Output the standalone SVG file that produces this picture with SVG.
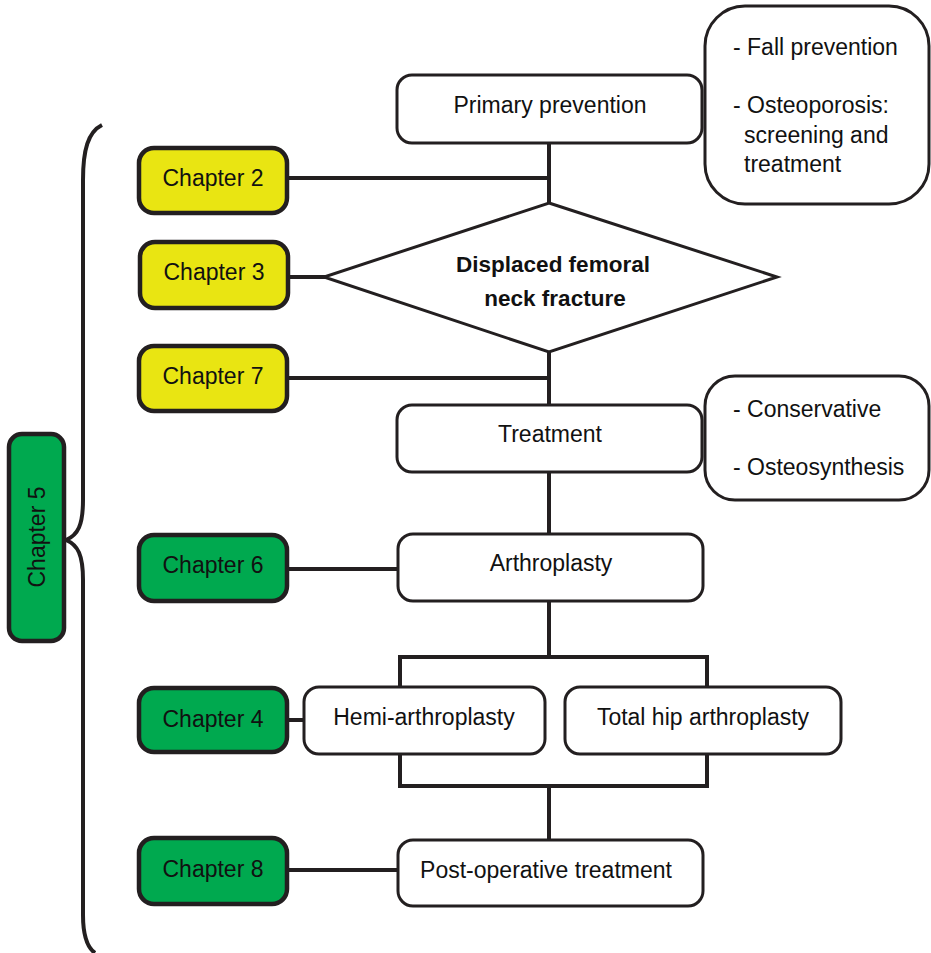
<svg xmlns="http://www.w3.org/2000/svg" width="931" height="953" viewBox="0 0 931 953">
<style>
text{font-family:"Liberation Sans",Arial,sans-serif;font-size:23px;fill:#111;}
.c{text-anchor:middle;}
.box{fill:#fff;stroke:#231f20;stroke-width:3;}
.yel{fill:#e9e512;stroke:#231f20;stroke-width:4.5;}
.grn{fill:#00a94f;stroke:#231f20;stroke-width:4.5;}
.ln{fill:none;stroke:#231f20;stroke-width:4;}
</style>
<rect width="931" height="953" fill="#fff"/>
<g id="connectors">
<path class="ln" d="M549 143V204M287 178H549M288 277H326M549 352V405M287 378H549M549 472V534M287 569H398M549 601V657M400 690V657H707V690M287 720H304M400 754V786H707V754M549 786V840M287 870H398"/>
<path class="ln" d="M102 125C88 132 83 150 83 180V500C83 525 78 535 66 540C78 545 83 555 83 580V915C83 938 88 948 95 953"/>
</g>
<g id="primary"><rect class="box" x="397" y="75" width="305" height="68" rx="15"/><text class="c" x="550" y="113">Primary prevention</text></g>
<g id="prevnote"><rect class="box" x="705" y="6" width="224" height="198" rx="40"/>
<text x="733" y="55">- Fall prevention</text><text x="733" y="113">- Osteoporosis:</text><text x="744" y="143">screening and</text><text x="744" y="172">treatment</text></g>
<g id="ch2"><rect class="yel" x="139" y="148" width="148" height="65" rx="15"/><text class="c" x="213" y="186">Chapter 2</text></g>
<g id="ch3"><rect class="yel" x="140" y="242" width="148" height="66" rx="15"/><text class="c" x="214" y="280">Chapter 3</text></g>
<g id="ch7"><rect class="yel" x="139" y="346" width="148" height="65" rx="15"/><text class="c" x="213" y="384">Chapter 7</text></g>
<g id="fracture"><polygon class="box" stroke-width="4" points="549,203 777,277 549,352 324,277"/>
<text class="c" x="553" y="272" style="font-weight:bold;font-size:22.5px">Displaced femoral</text><text class="c" x="555" y="306" style="font-weight:bold;font-size:22.5px">neck fracture</text></g>
<g id="treatment"><rect class="box" x="397" y="405" width="305" height="67" rx="15"/><text class="c" x="550" y="442">Treatment</text></g>
<g id="treatnote"><rect class="box" x="705" y="376" width="224" height="124" rx="30"/>
<text x="733" y="417">- Conservative</text><text x="733" y="475">- Osteosynthesis</text></g>
<g id="ch5"><rect class="grn" x="9" y="434" width="55" height="207" rx="13"/><text class="c" transform="translate(45,537) rotate(-90)">Chapter 5</text></g>
<g id="ch6"><rect class="grn" x="139" y="535" width="148" height="66" rx="15"/><text class="c" x="213" y="573">Chapter 6</text></g>
<g id="arthroplasty"><rect class="box" x="398" y="534" width="305" height="67" rx="15"/><text class="c" x="551" y="571">Arthroplasty</text></g>
<g id="ch4"><rect class="grn" x="139" y="688" width="148" height="64" rx="15"/><text class="c" x="213" y="727">Chapter 4</text></g>
<g id="hemi"><rect class="box" x="304" y="687" width="241" height="67" rx="15"/><text class="c" x="424" y="725">Hemi-arthroplasty</text></g>
<g id="tha"><rect class="box" x="565" y="687" width="276" height="67" rx="15"/><text class="c" x="703" y="725">Total hip arthroplasty</text></g>
<g id="ch8"><rect class="grn" x="139" y="838" width="148" height="66" rx="15"/><text class="c" x="213" y="877">Chapter 8</text></g>
<g id="postop"><rect class="box" x="398" y="840" width="305" height="66" rx="15"/><text class="c" x="546" y="878">Post-operative treatment</text></g>
</svg>
